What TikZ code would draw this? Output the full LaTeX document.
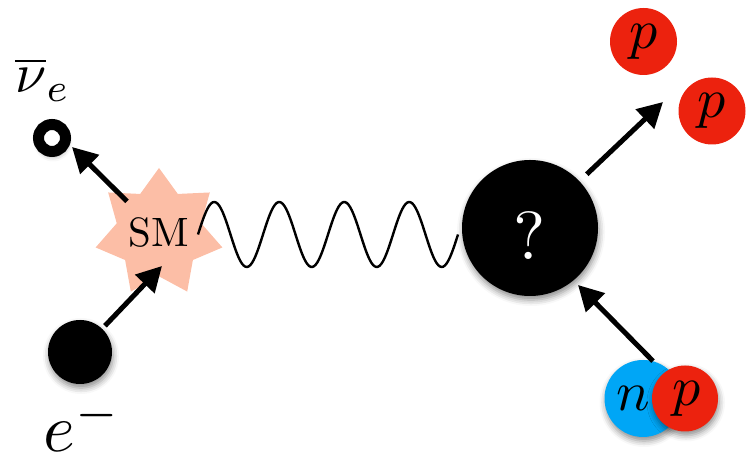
\documentclass[tikz,border=0pt]{standalone}
\usepackage{xcolor}
\usepackage{tikz}
\usetikzlibrary{positioning,arrows.meta,shapes,shadows.blur}

\definecolor{smpink}{RGB}{252,190,166}
\definecolor{pred}{RGB}{236,34,14}
\definecolor{nblue}{RGB}{0,166,246}

\begin{document}
\begin{tikzpicture}[x=1pt, y=1pt,
    ball/.style={circle, inner sep=0pt},
    shade/.style={blur shadow={shadow xshift=1pt, shadow yshift=-4pt, shadow blur radius=6pt, shadow opacity=45}},
    arr/.style={line width=5pt, -{Triangle[length=25pt, width=26pt]}},
    lbl/.style={inner sep=0pt},
    big/.style={lbl, scale=5.6}
]
\useasboundingbox (0,0) rectangle (747,462);

% left side
\node[star, star points=7, star point ratio=1.5, minimum size=130pt, fill=smpink] (sm) at (159,229) {};
\node[lbl, scale=4.1] at (sm.center) {SM};
\node[ball, draw=black, line width=11pt, minimum size=27pt, fill=white, shade] (nu) at (52,324) {};
\node[big, anchor=base west] (nulbl) at (14,369) {$\overline{\nu}_e$};
\node[ball, fill=black, minimum size=64pt, shade] (el) at (80,110) {};
\node[lbl, scale=6.8, anchor=base west] (ellbl) at (42,10) {$e^-$};

% photon
\coordinate (wl) at (198,227.5);
\draw[line width=2.4pt, shift={(wl)}] plot[domain=0:260, samples=160, smooth] (\x, {32.5*sin(\x/65*360)});

% right side
\node[ball, fill=black, minimum size=136pt, shade] (q) at (530,234) {};
\node[lbl, scale=6.8, text=white] at ([yshift=-8pt]q.center) {?};
\node[ball, fill=pred, minimum size=67pt] (p1) at (643.5,420.5) {};
\node[big] at (p1.center) {$p$};
\node[ball, fill=pred, minimum size=67pt] (p2) at (712,351) {};
\node[big] at (p2.center) {$p$};
\node[ball, fill=nblue, minimum size=77pt, shade] (n) at (643,63.5) {};
\node[big] at ([xshift=-10pt]n.center) {$n$};
\node[ball, fill=pred, minimum size=66pt, shade] (p3) at (685,63.5) {};
\node[big] at ([xshift=2pt]p3.center) {$p$};

% arrows
\coordinate (nutip) at (72,315);
\coordinate (smtip) at (162,196);
\coordinate (outtip) at (663,360);
\coordinate (intip) at (578,177);
\draw[arr, shorten <=45pt] (sm.center) -- (nutip);
\draw[arr, shorten <=4pt] (el) -- (smtip);
\draw[arr, shorten <=10pt] (q) -- (outtip);
\draw[arr] (n.75) -- (intip);

\end{tikzpicture}
\end{document}
